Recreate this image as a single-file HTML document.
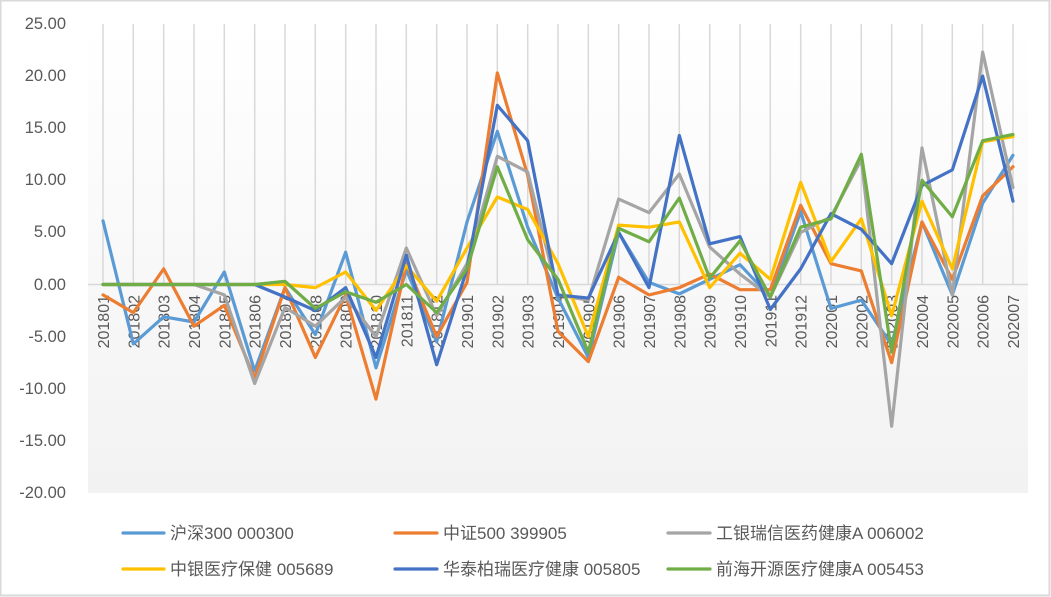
<!DOCTYPE html>
<html><head><meta charset="utf-8"><style>
html,body{margin:0;padding:0;background:#fff}
svg{display:block}
text{font-family:"Liberation Sans","Noto Sans CJK SC",sans-serif;fill:#595959}
</style></head><body>
<svg width="1051" height="597" viewBox="0 0 1051 597" xmlns="http://www.w3.org/2000/svg">
<defs><linearGradient id="bg" x1="0" y1="0" x2="0" y2="1"><stop offset="0" stop-color="#ffffff"/><stop offset="1" stop-color="#f2f2f2"/></linearGradient></defs>
<rect x="0.5" y="0.5" width="1049" height="595" fill="#fff" stroke="#d9d9d9" stroke-width="2"/>
<rect x="88" y="24" width="940" height="469" fill="url(#bg)"/>
<g font-size="16.5" text-anchor="end">
<text x="66" y="29">25.00</text><text x="66" y="81">20.00</text><text x="66" y="133">15.00</text><text x="66" y="185">10.00</text><text x="66" y="237">5.00</text><text x="66" y="290">0.00</text><text x="66" y="342">-5.00</text><text x="66" y="394">-10.00</text><text x="66" y="446">-15.00</text><text x="66" y="498">-20.00</text>
</g>
<g stroke="#d9d9d9" stroke-width="1.5">
<path d="M103 24V285M133.3 24V285M163.7 24V285M194 24V285M224.3 24V285M254.7 24V285M285 24V285M315.3 24V285M345.7 24V285M376 24V285M406.3 24V285M436.7 24V285M467 24V285M497.3 24V285M527.7 24V285M558 24V285M588.3 24V285M618.7 24V285M649 24V285M679.3 24V285M709.7 24V285M740 24V285M770.3 24V285M800.7 24V285M831 24V285M861.3 24V285M891.7 24V285M922 24V285M952.3 24V285M982.7 24V285M1013 24V285"/>
<path d="M88 284.5H1028"/>
</g>
<g font-size="16" text-anchor="end">
<text transform="translate(109,295) rotate(-90)">201801</text><text transform="translate(139.3,295) rotate(-90)">201802</text><text transform="translate(169.7,295) rotate(-90)">201803</text><text transform="translate(200,295) rotate(-90)">201804</text><text transform="translate(230.3,295) rotate(-90)">201805</text><text transform="translate(260.7,295) rotate(-90)">201806</text><text transform="translate(291,295) rotate(-90)">201807</text><text transform="translate(321.3,295) rotate(-90)">201808</text><text transform="translate(351.7,295) rotate(-90)">201809</text><text transform="translate(382,295) rotate(-90)">201810</text><text transform="translate(412.3,295) rotate(-90)">201811</text><text transform="translate(442.7,295) rotate(-90)">201812</text><text transform="translate(473,295) rotate(-90)">201901</text><text transform="translate(503.3,295) rotate(-90)">201902</text><text transform="translate(533.7,295) rotate(-90)">201903</text><text transform="translate(564,295) rotate(-90)">201904</text><text transform="translate(594.3,295) rotate(-90)">201905</text><text transform="translate(624.7,295) rotate(-90)">201906</text><text transform="translate(655,295) rotate(-90)">201907</text><text transform="translate(685.3,295) rotate(-90)">201908</text><text transform="translate(715.7,295) rotate(-90)">201909</text><text transform="translate(746,295) rotate(-90)">201910</text><text transform="translate(776.3,295) rotate(-90)">201911</text><text transform="translate(806.7,295) rotate(-90)">201912</text><text transform="translate(837,295) rotate(-90)">202001</text><text transform="translate(867.3,295) rotate(-90)">202002</text><text transform="translate(897.7,295) rotate(-90)">202003</text><text transform="translate(928,295) rotate(-90)">202004</text><text transform="translate(958.3,295) rotate(-90)">202005</text><text transform="translate(988.7,295) rotate(-90)">202006</text><text transform="translate(1019,295) rotate(-90)">202007</text>
</g>
<g transform="translate(103,284.5) scale(30.333,-10.42)" fill="none" stroke-width="3.2" stroke-linejoin="round" stroke-linecap="round">
<polyline vector-effect="non-scaling-stroke" stroke="#5B9BD5" points="0,6.1 1,-5.7 2,-3.1 3,-3.6 4,1.2 5,-8.3 6,-0.3 7,-4.8 8,3.1 9,-8.0 10,1.4 11,-5.5 12,6.0 13,14.7 14,5.5 15,-1.3 16,-7.0 17,5.0 18,0.2 19,-0.9 20,0.5 21,1.9 22,-1.2 23,7.0 24,-2.3 25,-1.5 26,-5.8 27,6.0 28,-1.0 29,7.8 30,12.4"/>
<polyline vector-effect="non-scaling-stroke" stroke="#ED7D31" points="0,-1.0 1,-2.7 2,1.5 3,-4.0 4,-2.0 5,-9.0 6,-0.3 7,-7.0 8,-1.0 9,-11.0 10,2.0 11,-5.0 12,0.2 13,20.3 14,10.5 15,-4.5 16,-7.4 17,0.7 18,-1.0 19,-0.3 20,1.0 21,-0.5 22,-0.5 23,7.6 24,2.0 25,1.3 26,-7.5 27,6.0 28,0.5 29,8.5 30,11.3"/>
<polyline vector-effect="non-scaling-stroke" stroke="#A5A5A5" points="0,0 1,0 2,0 3,0 4,-1.0 5,-9.5 6,-2.2 7,-4.0 8,-1.2 9,-5.0 10,3.5 11,-3.0 12,2.0 13,12.3 14,10.8 15,-1.0 16,-1.5 17,8.2 18,6.9 19,10.6 20,3.6 21,1.0 22,-1.2 23,5.0 24,6.5 25,12.0 26,-13.6 27,13.1 28,-1.0 29,22.3 30,9.3"/>
<polyline vector-effect="non-scaling-stroke" stroke="#FFC000" points="0,0 1,0 2,0 3,0 4,0 5,0 6,0 7,-0.3 8,1.2 9,-2.5 10,1.8 11,-1.6 12,3.5 13,8.4 14,7.2 15,2.0 16,-5.0 17,5.7 18,5.5 19,6.0 20,-0.3 21,3.0 22,0.5 23,9.8 24,2.2 25,6.3 26,-3.0 27,8.0 28,1.5 29,13.7 30,14.2"/>
<polyline vector-effect="non-scaling-stroke" stroke="#4472C4" points="0,0 1,0 2,0 3,0 4,0 5,0 6,-1.2 7,-2.5 8,-0.3 9,-7.0 10,2.8 11,-7.7 12,1.5 13,17.2 14,13.8 15,-1.0 16,-1.3 17,5.0 18,-0.3 19,14.3 20,3.9 21,4.6 22,-2.4 23,1.5 24,6.8 25,5.3 26,2.0 27,9.5 28,11.0 29,20.0 30,8.0"/>
<polyline vector-effect="non-scaling-stroke" stroke="#70AD47" points="0,0 1,0 2,0 3,0 4,0 5,0 6,0.3 7,-2.3 8,-0.7 9,-1.7 10,0 11,-2.7 12,1.5 13,11.3 14,4.3 15,0.5 16,-6.5 17,5.4 18,4.1 19,8.3 20,0.6 21,4.2 22,-1.2 23,5.5 24,6.3 25,12.5 26,-6.5 27,10.0 28,6.5 29,13.8 30,14.4"/>
</g>
<g stroke-width="3.2" stroke-linecap="round">
<line x1="123" y1="533" x2="164" y2="533" stroke="#5B9BD5"/>
<line x1="395" y1="533" x2="437" y2="533" stroke="#ED7D31"/>
<line x1="668" y1="533" x2="710" y2="533" stroke="#A5A5A5"/>
<line x1="123" y1="569" x2="164" y2="569" stroke="#FFC000"/>
<line x1="395" y1="569" x2="437" y2="569" stroke="#4472C4"/>
<line x1="668" y1="569" x2="710" y2="569" stroke="#70AD47"/>
</g>
<g font-size="17">
<text x="170" y="539">沪深300 000300</text>
<text x="443" y="539">中证500 399905</text>
<text x="716" y="539">工银瑞信医药健康A 006002</text>
<text x="170" y="575">中银医疗保健 005689</text>
<text x="443" y="575">华泰柏瑞医疗健康 005805</text>
<text x="716" y="575">前海开源医疗健康A 005453</text>
</g>
</svg>
</body></html>
